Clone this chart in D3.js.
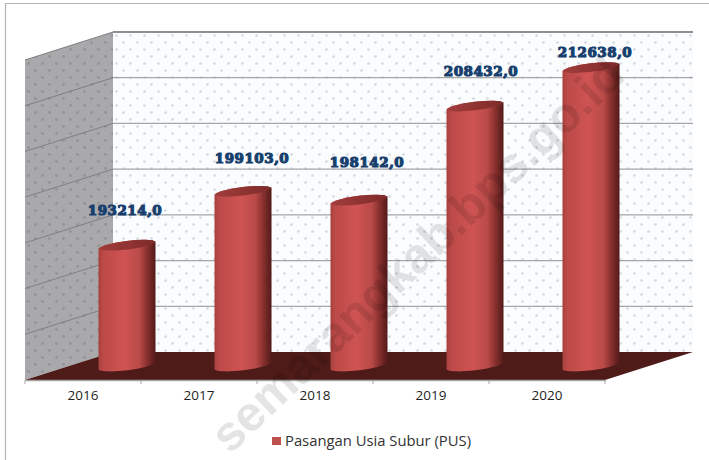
<!DOCTYPE html>
<html>
<head>
<meta charset="utf-8">
<script src="https://cdn.jsdelivr.net/npm/d3@7"></script>
<style>
  html, body { margin: 0; padding: 0; background: #fff; }
  svg { display: block; }
</style>
</head>
<body>
<div id="chart"></div>
<script>
var years = ["2016", "2017", "2018", "2019", "2020"]
var pusValues = [193214, 199103, 198142, 208432, 212638]
var valueTicks = [180000, 185000, 190000, 195000, 200000, 205000, 210000, 215000]
var seriesName = "Pasangan Usia Subur (PUS)"
// labels were moved by hand in the original, so they don't sit at one distance from the bars
var labelLift = [35, 33, 38, 35, 16]
var labelShift = [-1, 10, 9, 7, 5]

var width = 709, height = 460
// the bars stand halfway into the floor, walls are shifted back by depth
var depthX = 88, depthY = 28
var left = 25, right = 605
var baseY = 366, topY = 46

var svg = d3.select("#chart").append("svg")
  .attr("width", width)
  .attr("height", height)
  .attr("viewBox", "0 0 " + width + " " + height)

var xScale = d3.scaleBand().domain(years).range([left, right])
var yScale = d3.scaleLinear().domain([180000, 215000]).range([baseY, topY])

var defs = svg.append("defs")

var backDots = defs.append("pattern").attr("id", "backDots")
  .attr("patternUnits", "userSpaceOnUse").attr("x", 113).attr("y", 32)
  .attr("width", 14).attr("height", 14)
backDots.append("rect").attr("width", 14).attr("height", 14).attr("fill", "#fbfcfd")
backDots.append("circle").attr("cx", 3.5).attr("cy", 3.5).attr("r", 1.3).attr("fill", "#d3d9e1")
backDots.append("circle").attr("cx", 10.5).attr("cy", 10.5).attr("r", 1.3).attr("fill", "#d3d9e1")

var sideDots = defs.append("pattern").attr("id", "sideDots")
  .attr("patternUnits", "userSpaceOnUse").attr("x", 25).attr("y", 32)
  .attr("width", 14).attr("height", 14)
sideDots.append("rect").attr("width", 14).attr("height", 14).attr("fill", "#a9a9ab")
sideDots.append("circle").attr("cx", 3.5).attr("cy", 3.5).attr("r", 1.4).attr("fill", "#949497")
sideDots.append("circle").attr("cx", 10.5).attr("cy", 10.5).attr("r", 1.4).attr("fill", "#949497")

var barGrad = defs.append("linearGradient").attr("id", "barGrad")
var barStops = [[0, "#a8403e"], [0.08, "#bb4a48"], [0.45, "#cf5453"], [0.72, "#b94a48"], [0.88, "#7f2c2a"], [1, "#521a19"]]
barStops.forEach(function(s) {
  barGrad.append("stop").attr("offset", s[0]).attr("stop-color", s[1])
})

var capGrad = defs.append("linearGradient").attr("id", "capGrad")
capGrad.append("stop").attr("offset", 0).attr("stop-color", "#a23d3b")
capGrad.append("stop").attr("offset", 1).attr("stop-color", "#7d2b2a")

// frame of the pasted picture
svg.append("path")
  .attr("d", "M5.5," + height + "V3.5H" + width)
  .attr("fill", "none").attr("stroke", "#b4b4b4").attr("stroke-width", 1.2)

var wallTop = yScale(215000) - depthY / 2
var wallBottom = yScale(180000) - depthY / 2
var frontTop = yScale(215000) + depthY / 2
var frontBottom = yScale(180000) + depthY / 2

svg.append("rect")
  .attr("x", left + depthX).attr("y", wallTop)
  .attr("width", right - left).attr("height", wallBottom - wallTop)
  .attr("fill", "url(#backDots)")

svg.append("path")
  .attr("d", d3.line()([[left, frontTop], [left + depthX, wallTop], [left + depthX, wallBottom], [left, frontBottom]]) + "Z")
  .attr("fill", "url(#sideDots)")

svg.append("path")
  .attr("d", d3.line()([[left, frontBottom], [right, frontBottom], [right + depthX, wallBottom], [left + depthX, wallBottom]]) + "Z")
  .attr("fill", "#4e1b18")

// gridlines: back wall then side wall
svg.append("g").selectAll("line.back")
  .data(valueTicks.slice(1))
  .enter().append("line").attr("class", "back")
  .attr("x1", left + depthX).attr("x2", right + depthX)
  .attr("y1", function(d) { return yScale(d) - depthY / 2 })
  .attr("y2", function(d) { return yScale(d) - depthY / 2 })
  .attr("stroke", function(d) { return d == 215000 ? "#8f8f8f" : "#a3a5a8" })
  .attr("stroke-width", function(d) { return d == 215000 ? 2 : 1.3 })

svg.append("g").selectAll("line.side")
  .data(valueTicks.slice(1))
  .enter().append("line").attr("class", "side")
  .attr("x1", left).attr("x2", left + depthX)
  .attr("y1", function(d) { return yScale(d) + depthY / 2 })
  .attr("y2", function(d) { return yScale(d) - depthY / 2 })
  .attr("stroke", "#7f7f80").attr("stroke-width", 1)

// front axis
var xAxis = svg.append("g")
  .attr("transform", "translate(0," + frontBottom + ")")
  .call(d3.axisBottom(xScale).tickSize(0).tickPadding(10))
xAxis.select(".domain").attr("stroke", "#a6a6a6").attr("stroke-width", 1.5)
xAxis.selectAll("text")
  .attr("font-family", "'Open Sans', sans-serif").attr("font-size", 13.5).attr("fill", "#1f1f1f")

svg.append("g").selectAll("line")
  .data(d3.range(years.length + 1))
  .enter().append("line")
  .attr("x1", function(i) { return left + i * xScale.step() })
  .attr("x2", function(i) { return left + i * xScale.step() })
  .attr("y1", frontBottom).attr("y2", frontBottom + 4)
  .attr("stroke", "#a6a6a6")

// cylinders
var halfBar = 28.5, tilt = 3.5
function barBody(d, i) {
  var cx = xScale(years[i]) + xScale.bandwidth() / 2 + depthX / 2
  var yT = yScale(d), yB = yScale(180000)
  return "M" + (cx - halfBar) + "," + (yT + tilt)
    + "A" + (halfBar + 0.5) + ",5 -7 0 1 " + (cx + halfBar) + "," + (yT - tilt)
    + "L" + (cx + halfBar) + "," + (yB - tilt)
    + "A" + (halfBar + 0.5) + ",5 -7 0 1 " + (cx - halfBar) + "," + (yB + tilt) + "Z"
}
function barCap(d, i) {
  var cx = xScale(years[i]) + xScale.bandwidth() / 2 + depthX / 2
  var yT = yScale(d)
  return "M" + (cx - halfBar) + "," + (yT + tilt)
    + "A" + (halfBar + 0.5) + ",5 -7 0 1 " + (cx + halfBar) + "," + (yT - tilt)
    + "A" + (halfBar + 0.5) + ",5 -7 0 1 " + (cx - halfBar) + "," + (yT + tilt) + "Z"
}

svg.append("g").selectAll("path")
  .data(pusValues)
  .enter().append("path")
  .attr("d", barBody)
  .attr("fill", "url(#barGrad)")

svg.append("g").selectAll("path")
  .data(pusValues)
  .enter().append("path")
  .attr("d", barCap)
  .attr("fill", "url(#capGrad)")

// value labels
svg.append("g").selectAll("text")
  .data(pusValues)
  .enter().append("text")
  .attr("x", function(d, i) { return xScale(years[i]) + xScale.bandwidth() / 2 + depthX / 2 + labelShift[i] - 1 })
  .attr("y", function(d, i) { return yScale(d) - labelLift[i] + 5 })
  .attr("text-anchor", "middle")
  .attr("font-family", "'DejaVu Serif', serif").attr("font-weight", "bold").attr("font-size", 13.5)
  .attr("letter-spacing", 0.5)
  .attr("fill", "#173f6e").attr("stroke", "#173f6e").attr("stroke-width", 1.1)
  .text(function(d) { return d + ",0" })

// legend
svg.append("rect")
  .attr("x", 272).attr("y", 437).attr("width", 9).attr("height", 8)
  .attr("fill", "#c0504d")
svg.append("text")
  .attr("x", 285).attr("y", 446)
  .attr("font-family", "'Open Sans', sans-serif").attr("font-size", 14.8)
  .attr("fill", "#333333")
  .text(seriesName)

// watermark of the source site, over everything
svg.append("text")
  .attr("transform", "translate(230,455) rotate(-43.5)")
  .attr("font-family", "'Liberation Sans', sans-serif").attr("font-weight", "bold").attr("font-size", 49)
  .attr("fill", "#000").attr("opacity", 0.1)
  .text("semarangkab.bps.go.id")
</script>
</body>
</html>
